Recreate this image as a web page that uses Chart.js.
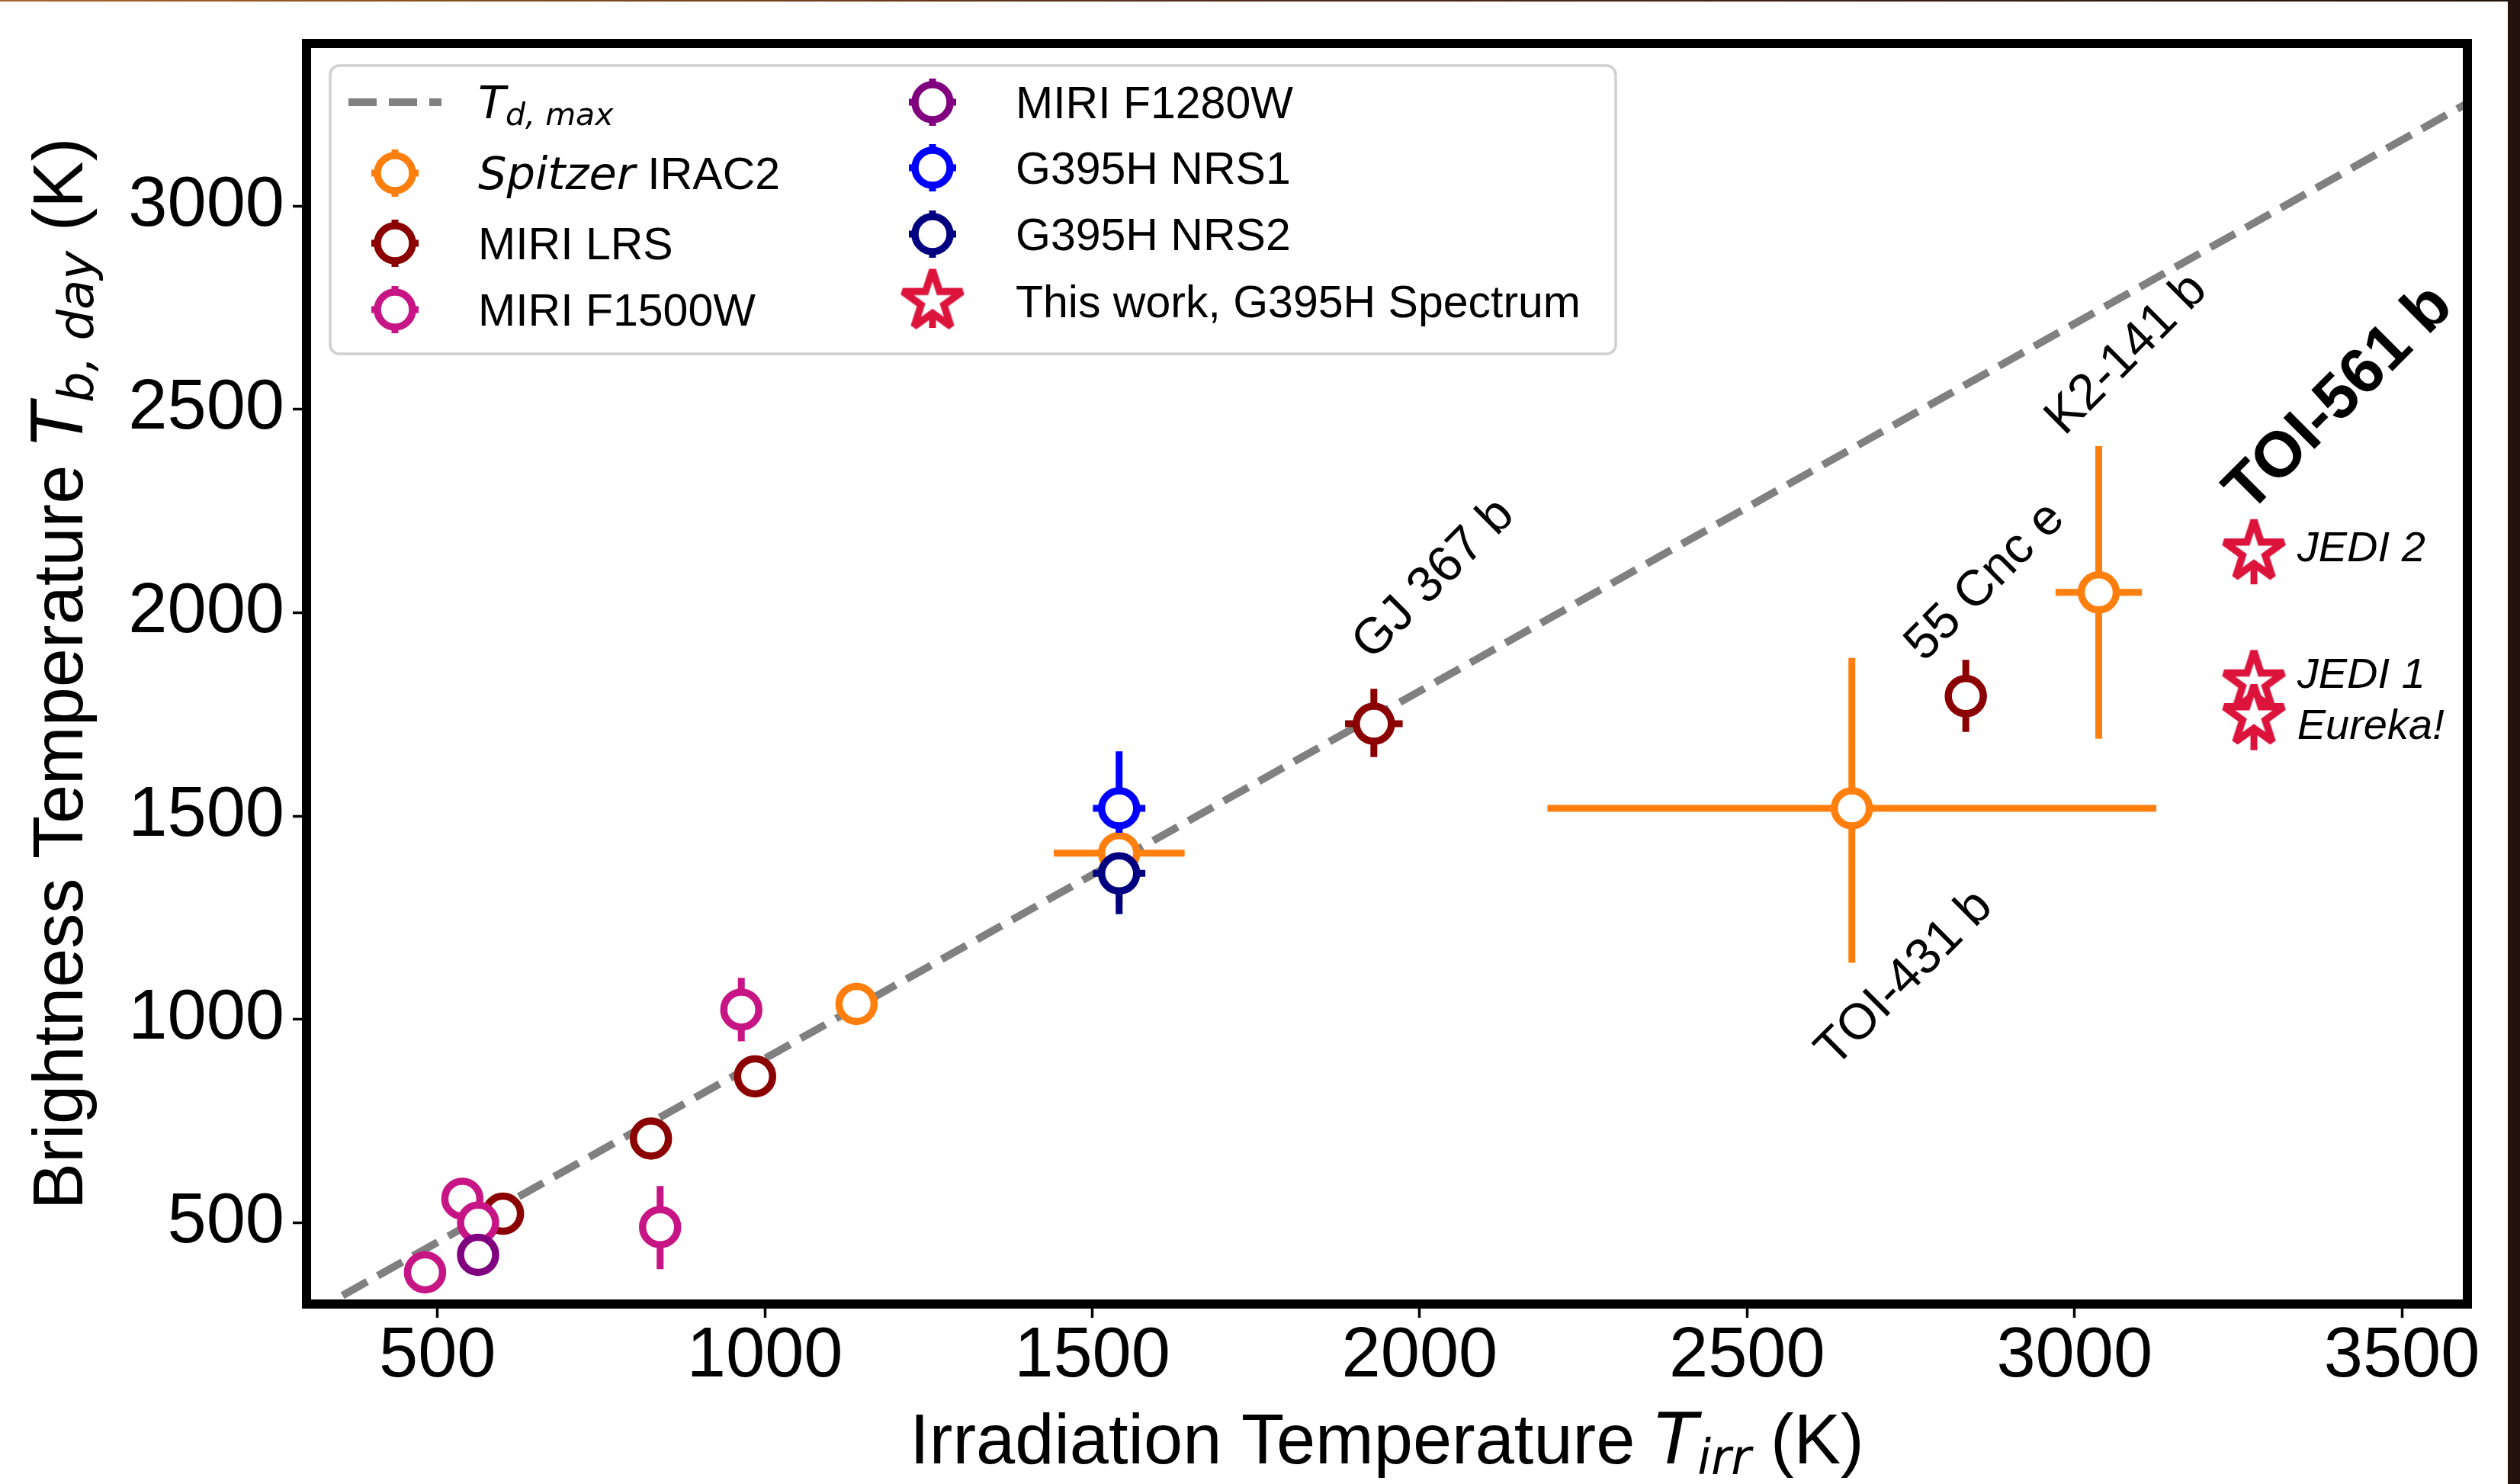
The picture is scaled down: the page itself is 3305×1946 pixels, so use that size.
<!DOCTYPE html>
<html>
<head>
<meta charset="utf-8">
<script src="https://cdn.jsdelivr.net/npm/chart.js@4.4.1/dist/chart.umd.min.js"></script>
<style>
    html, body { margin: 0; padding: 0; background: #24130c; overflow: hidden; }
    #wrap { position: absolute; left: 0; top: 0; width: 3289px; height: 1946px; background: #fff; }
    #topline { position: absolute; left: 0; top: 0; width: 3305px; height: 2px;
               background: linear-gradient(to right, #a5662c, #5a3018 45%, #24130c); }
</style>
</head>
<body>
<div id="wrap"><canvas id="chart" width="3289" height="1946"></canvas></div>
<div id="topline"></div>
<script>
// ==================== DATOS ====================
const xLimits = [300, 3600];
const yLimits = [300, 3400];
const xTicks = [500, 1000, 1500, 2000, 2500, 3000, 3500];
const yTicks = [500, 1000, 1500, 2000, 2500, 3000];

// línea T_d,max (extremos)
const tdmaxX = [355, 3600];
const tdmaxY = [321, 3253];

// Spitzer IRAC2
const spitzerX = [1140, 1541, 2660, 3037];
const spitzerY = [1038, 1409, 1519, 2050];
const spitzerXErr = [0, 100, 465, 66];
const spitzerYLo = [0, 124, 380, 360];
const spitzerYHi = [0, 124, 370, 360];

// MIRI LRS
const lrsX = [600, 826, 985, 1930, 2834];
const lrsY = [522, 707, 860, 1727, 1795];
const lrsXErr = [0, 0, 0, 44, 0];
const lrsYLo = [0, 0, 0, 82, 88];
const lrsYHi = [0, 0, 0, 86, 89];

// MIRI F1500W
const f1500X = [481, 538, 562, 840, 964];
const f1500Y = [378, 559, 500, 489, 1024];
const f1500XErr = [0, 0, 0, 0, 0];
const f1500YLo = [0, 0, 0, 103, 78];
const f1500YHi = [0, 0, 0, 101, 78];

// MIRI F1280W
const f1280X = [562];
const f1280Y = [421];
const f1280XErr = [0];
const f1280YLo = [0];
const f1280YHi = [0];

// G395H NRS1
const nrs1X = [1541];
const nrs1Y = [1519];
const nrs1XErr = [40];
const nrs1YLo = [60];
const nrs1YHi = [140];

// G395H NRS2
const nrs2X = [1541];
const nrs2Y = [1359];
const nrs2XErr = [40];
const nrs2YLo = [100];
const nrs2YHi = [40];

// This work, G395H Spectrum (TOI-561 b)
const starX = [3274, 3274, 3274];
const starY = [2150, 1828, 1745];
const starXErr = [0, 0, 0];
const starYLo = [80, 80, 83];
const starYHi = [80, 80, 83];

// etiquetas de planetas
const planetNames = ['GJ 367 b', '55 Cnc e', 'K2-141 b', 'TOI-431 b'];
const planetLabelX = [2022, 2864, 3080, 2741];
const planetLabelY = [2082, 2076, 2635, 1100];
const targetName = 'TOI-561 b';
const targetLabelX = 3405;
const targetLabelY = 2526;
const reductionNames = ['JEDI 2', 'JEDI 1', 'Eureka!'];
const reductionLabelX = 3340;
const reductionLabelY = [2156, 1845, 1718];

// ==================== ESTILOS ====================
const SANS = '"Liberation Sans", Arial, Helvetica, sans-serif';
const MATH = '"DejaVu Sans", sans-serif';
const COLORS = {
    spitzer: '#ff7f0e',
    lrs: '#8b0000',
    f1500: '#c71585',
    f1280: '#800080',
    nrs1: '#0000ff',
    nrs2: '#000080',
    star: '#dc143c'
};
const MARKER_R = 23;
const MARKER_LW = 9.5;
const ERR_LW = 9;

function makeStar(R, lw, color) {
    const size = Math.ceil(2 * R + 3 * lw);
    const c = document.createElement('canvas');
    c.width = size;
    c.height = size;
    const g = c.getContext('2d');
    const cx = size / 2, cy = size / 2, r = R * 0.381966;
    g.beginPath();
    for (let k = 0; k < 10; k++) {
        const rad = k % 2 ? r : R;
        const a = -Math.PI / 2 + k * Math.PI / 5;
        const px = cx + rad * Math.cos(a), py = cy + rad * Math.sin(a);
        if (k) g.lineTo(px, py); else g.moveTo(px, py);
    }
    g.closePath();
    g.fillStyle = '#fff';
    g.fill();
    g.lineJoin = 'miter';
    g.miterLimit = 2;
    g.lineWidth = lw;
    g.strokeStyle = color;
    g.stroke();
    return c;
}
const starImg = makeStar(41, 9.5, COLORS.star);

// ==================== DATASETS ====================
function toPoints(xs, ys) {
    return xs.map((x, i) => ({ x, y: ys[i] }));
}

function errorSegments(xs, ys, xErr, yLo, yHi) {
    const pts = [];
    xs.forEach((x, i) => {
        const y = ys[i];
        if (yLo[i] || yHi[i]) pts.push({ x, y: y - yLo[i] }, { x, y: y + yHi[i] }, { x, y: null });
        if (xErr[i]) pts.push({ x: x - xErr[i], y }, { x: x + xErr[i], y }, { x, y: null });
    });
    return pts;
}

// orden de dibujo: de abajo hacia arriba
const series = [
    { key: 'spitzer', x: spitzerX, y: spitzerY, xe: spitzerXErr, lo: spitzerYLo, hi: spitzerYHi },
    { key: 'lrs', x: lrsX, y: lrsY, xe: lrsXErr, lo: lrsYLo, hi: lrsYHi },
    { key: 'f1500', x: f1500X, y: f1500Y, xe: f1500XErr, lo: f1500YLo, hi: f1500YHi },
    { key: 'f1280', x: f1280X, y: f1280Y, xe: f1280XErr, lo: f1280YLo, hi: f1280YHi },
    { key: 'nrs1', x: nrs1X, y: nrs1Y, xe: nrs1XErr, lo: nrs1YLo, hi: nrs1YHi },
    { key: 'nrs2', x: nrs2X, y: nrs2Y, xe: nrs2XErr, lo: nrs2YLo, hi: nrs2YHi },
    { key: 'star', x: starX, y: starY, xe: starXErr, lo: starYLo, hi: starYHi }
];

const datasets = [{
    data: toPoints(tdmaxX, tdmaxY),
    showLine: true,
    borderColor: '#808080',
    borderWidth: 10,
    borderDash: [37, 16],
    pointRadius: 0,
    order: 200
}];

let drawIdx = 0;
series.forEach(s => {
    const color = COLORS[s.key];
    datasets.push({
        data: errorSegments(s.x, s.y, s.xe, s.lo, s.hi),
        showLine: true,
        spanGaps: false,
        borderColor: color,
        borderWidth: ERR_LW,
        borderCapStyle: 'butt',
        pointRadius: 0,
        pointHoverRadius: 0,
        order: 150 - drawIdx++
    });
    datasets.push({
        data: toPoints(s.x, s.y),
        showLine: false,
        pointStyle: s.key === 'star' ? starImg : 'circle',
        pointRadius: MARKER_R,
        pointHoverRadius: MARKER_R,
        pointBorderWidth: MARKER_LW,
        pointHoverBorderWidth: MARKER_LW,
        pointBackgroundColor: '#fff',
        pointBorderColor: color,
        order: 150 - drawIdx++
    });
});

// ==================== TEXTO ENRIQUECIDO ====================
function richWidth(ctx, parts) {
    return parts.reduce((w, p) => {
        ctx.font = p.font;
        return w + ctx.measureText(p.text).width;
    }, 0);
}

function drawRich(ctx, parts, x, y) {
    let cx = x;
    parts.forEach(p => {
        ctx.font = p.font;
        ctx.fillText(p.text, cx, y + (p.dy || 0));
        cx += ctx.measureText(p.text).width;
    });
}

const xTitle = [
    { text: 'Irradiation Temperature ', font: `92px ${SANS}` },
    { text: 'T', font: `italic 92px ${MATH}` },
    { text: 'irr', font: `italic 64px ${MATH}`, dy: 14 },
    { text: ' (K)', font: `92px ${SANS}` }
];
const yTitle = [
    { text: 'Brightness Temperature ', font: `92px ${SANS}` },
    { text: 'T', font: `italic 92px ${MATH}` },
    { text: 'b, day', font: `italic 64px ${MATH}`, dy: 14 },
    { text: ' (K)', font: `92px ${SANS}` }
];

// ==================== LEYENDA ====================
const LEG_FONT = 59;
const legendRows = [
    { hx: 518, tx: 627, y: 134, kind: 'line', parts: [
        { text: 'T', font: `italic ${LEG_FONT}px ${MATH}` },
        { text: 'd, max', font: `italic 41px ${MATH}`, dy: 9 }] },
    { hx: 518, tx: 627, y: 227, kind: 'spitzer', parts: [
        { text: 'Spitzer', font: `italic ${LEG_FONT}px ${MATH}` },
        { text: ' IRAC2', font: `${LEG_FONT}px ${SANS}` }] },
    { hx: 518, tx: 627, y: 319, kind: 'lrs', parts: [{ text: 'MIRI LRS', font: `${LEG_FONT}px ${SANS}` }] },
    { hx: 518, tx: 627, y: 406, kind: 'f1500', parts: [{ text: 'MIRI F1500W', font: `${LEG_FONT}px ${SANS}` }] },
    { hx: 1223, tx: 1332, y: 134, kind: 'f1280', parts: [{ text: 'MIRI F1280W', font: `${LEG_FONT}px ${SANS}` }] },
    { hx: 1223, tx: 1332, y: 220, kind: 'nrs1', parts: [{ text: 'G395H NRS1', font: `${LEG_FONT}px ${SANS}` }] },
    { hx: 1223, tx: 1332, y: 307, kind: 'nrs2', parts: [{ text: 'G395H NRS2', font: `${LEG_FONT}px ${SANS}` }] },
    { hx: 1223, tx: 1332, y: 395, kind: 'star', parts: [{ text: 'This work, G395H Spectrum', font: `${LEG_FONT}px ${SANS}` }] }
];

function roundRect(ctx, x, y, w, h, r) {
    ctx.beginPath();
    ctx.moveTo(x + r, y);
    ctx.arcTo(x + w, y, x + w, y + h, r);
    ctx.arcTo(x + w, y + h, x, y + h, r);
    ctx.arcTo(x, y + h, x, y, r);
    ctx.arcTo(x, y, x + w, y, r);
    ctx.closePath();
}

function drawLegend(ctx) {
    roundRect(ctx, 433, 86, 1686, 378, 12);
    ctx.fillStyle = 'rgba(255,255,255,0.8)';
    ctx.fill();
    ctx.strokeStyle = '#d0d0d0';
    ctx.lineWidth = 3.5;
    ctx.stroke();

    legendRows.forEach(row => {
        const { hx, y } = row;
        if (row.kind === 'line') {
            ctx.save();
            ctx.strokeStyle = '#808080';
            ctx.lineWidth = 10;
            ctx.setLineDash([37, 16]);
            ctx.beginPath();
            ctx.moveTo(457, y);
            ctx.lineTo(579, y);
            ctx.stroke();
            ctx.restore();
        } else if (row.kind === 'star') {
            ctx.strokeStyle = COLORS.star;
            ctx.lineWidth = ERR_LW;
            ctx.beginPath();
            ctx.moveTo(hx, y - 35);
            ctx.lineTo(hx, y + 35);
            ctx.stroke();
            ctx.drawImage(starImg, hx - starImg.width / 2, y - starImg.height / 2);
        } else {
            const color = COLORS[row.kind];
            ctx.strokeStyle = color;
            ctx.lineWidth = ERR_LW;
            ctx.beginPath();
            ctx.moveTo(hx, y - 31); ctx.lineTo(hx, y + 31);
            ctx.moveTo(hx - 31, y); ctx.lineTo(hx + 31, y);
            ctx.stroke();
            ctx.beginPath();
            ctx.arc(hx, y, MARKER_R, 0, 2 * Math.PI);
            ctx.fillStyle = '#fff';
            ctx.fill();
            ctx.lineWidth = MARKER_LW;
            ctx.stroke();
        }
        ctx.fillStyle = '#000';
        ctx.textAlign = 'left';
        ctx.textBaseline = 'alphabetic';
        drawRich(ctx, row.parts, row.tx, y + 21);
    });
}

// ==================== PLUGIN DE DECORACIÓN ====================
const decor = {
    id: 'decor',
    beforeDraw(chart) {
        const { ctx, width, height } = chart;
        ctx.save();
        ctx.fillStyle = '#fff';
        ctx.fillRect(0, 0, width, height);
        ctx.restore();
    },
    afterDraw(chart) {
        const { ctx, chartArea: a, scales } = chart;
        const xs = scales.x, ys = scales.y;
        ctx.save();

        // marco
        ctx.strokeStyle = '#000';
        ctx.lineWidth = 12;
        ctx.lineJoin = 'miter';
        ctx.strokeRect(a.left, a.top, a.right - a.left, a.bottom - a.top);

        ctx.fillStyle = '#000';
        ctx.textBaseline = 'alphabetic';

        // título eje x
        const wx = richWidth(ctx, xTitle);
        drawRich(ctx, xTitle, (a.left + a.right) / 2 - wx / 2, 1919);

        // título eje y
        ctx.save();
        ctx.translate(108, (a.top + a.bottom) / 2);
        ctx.rotate(-Math.PI / 2);
        const wy = richWidth(ctx, yTitle);
        drawRich(ctx, yTitle, -wy / 2, 0);
        ctx.restore();

        // nombres de planetas
        ctx.textAlign = 'center';
        ctx.textBaseline = 'middle';
        planetNames.forEach((name, i) => {
            ctx.save();
            ctx.translate(xs.getPixelForValue(planetLabelX[i]), ys.getPixelForValue(planetLabelY[i]));
            ctx.rotate(-Math.PI / 4);
            ctx.font = `66px ${SANS}`;
            ctx.fillText(name, 0, 0);
            ctx.restore();
        });
        ctx.save();
        ctx.translate(xs.getPixelForValue(targetLabelX), ys.getPixelForValue(targetLabelY));
        ctx.rotate(-Math.PI / 4);
        ctx.font = `bold 84px ${SANS}`;
        ctx.fillText(targetName, 0, 0);
        ctx.restore();

        // reducciones
        ctx.textAlign = 'left';
        ctx.font = `italic 56px ${SANS}`;
        reductionNames.forEach((name, i) => {
            ctx.fillText(name, xs.getPixelForValue(reductionLabelX), ys.getPixelForValue(reductionLabelY[i]));
        });

        drawLegend(ctx);
        ctx.restore();
    }
};

// ==================== GRÁFICO ====================
const tickFont = { family: SANS, size: 92, lineHeight: 1 };
const plainLabel = v => String(v);

new Chart(document.getElementById('chart'), {
    type: 'scatter',
    data: { datasets },
    options: {
        responsive: false,
        animation: false,
        devicePixelRatio: 1,
        events: [],
        layout: { padding: { top: 55, right: 53, left: 0, bottom: 0 } },
        plugins: { legend: { display: false }, tooltip: { enabled: false } },
        scales: {
            x: {
                type: 'linear',
                min: xLimits[0],
                max: xLimits[1],
                afterBuildTicks: axis => { axis.ticks = xTicks.map(v => ({ value: v })); },
                afterFit: axis => { axis.height = 236; },
                border: { display: false },
                grid: { drawOnChartArea: false, drawTicks: true, tickLength: 18, tickWidth: 3.5, tickColor: '#000' },
                ticks: { font: tickFont, color: '#000', padding: 6, maxRotation: 0, autoSkip: false, callback: plainLabel }
            },
            y: {
                type: 'linear',
                min: yLimits[0],
                max: yLimits[1],
                afterBuildTicks: axis => { axis.ticks = yTicks.map(v => ({ value: v })); },
                afterFit: axis => { axis.width = 402; },
                border: { display: false },
                grid: { drawOnChartArea: false, drawTicks: true, tickLength: 18, tickWidth: 3.5, tickColor: '#000' },
                ticks: { font: tickFont, color: '#000', padding: 11, autoSkip: false, callback: plainLabel }
            }
        }
    },
    plugins: [decor]
});
</script>
</body>
</html>
